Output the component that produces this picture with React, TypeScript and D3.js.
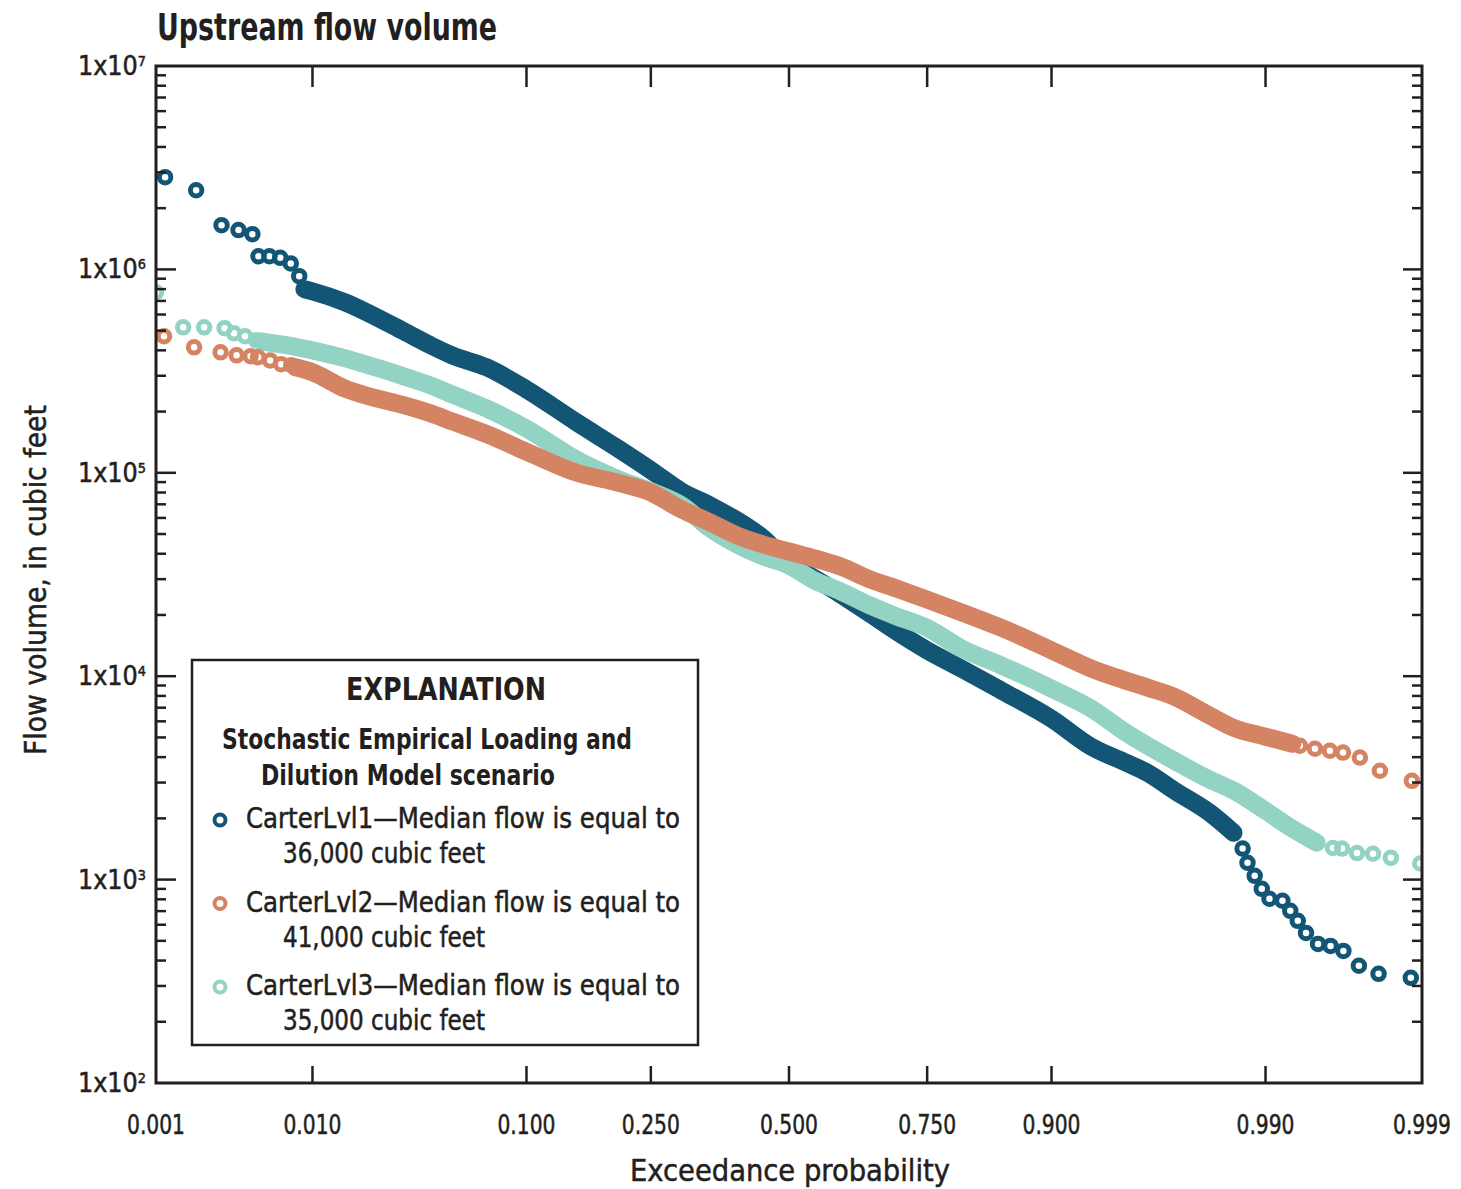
import React, { useEffect, useRef } from "react";
import * as d3 from "d3";

// exceedance probabilities shown on the x axis
const probTicks = [0.001, 0.01, 0.1, 0.25, 0.5, 0.75, 0.9, 0.99, 0.999];
const probLabels = ["0.001", "0.010", "0.100", "0.250", "0.500", "0.750", "0.900", "0.990", "0.999"];
const flowTicks = [1e2, 1e3, 1e4, 1e5, 1e6, 1e7];

// [exceedance probability, flow volume in cubic feet]
// dense part of each series (drawn as a solid band of overlapping circles)
const lvl1Band = [
  [0.009, 7.99e5], [0.01, 7.8e5], [0.015, 6.9e5], [0.02, 6.1e5], [0.03, 4.96e5], [0.04, 4.24e5],
  [0.05, 3.78e5], [0.07, 3.3e5], [0.1, 2.57e5], [0.15, 1.77e5], [0.2, 1.33e5], [0.25, 1.03e5],
  [0.3, 8.1e4], [0.35, 6.91e4], [0.4, 5.83e4], [0.45, 4.76e4], [0.5, 3.58e4], [0.55, 3.02e4],
  [0.6, 2.52e4], [0.65, 2.06e4], [0.7, 1.66e4], [0.75, 1.34e4], [0.8, 1.09e4], [0.85, 8.5e3],
  [0.9, 6.18e3], [0.93, 4.5e3], [0.95, 3.76e3], [0.96, 3.35e3], [0.97, 2.74e3], [0.98, 2.13e3],
  [0.985, 1.7e3],
];
const lvl2Band = [
  [0.008, 3.3e5], [0.01, 3.12e5], [0.015, 2.6e5], [0.02, 2.38e5], [0.03, 2.15e5], [0.04, 1.96e5],
  [0.05, 1.79e5], [0.07, 1.55e5], [0.1, 1.27e5], [0.15, 1.0e5], [0.2, 8.97e4], [0.25, 8.01e4],
  [0.3, 6.6e4], [0.35, 5.7e4], [0.4, 4.92e4], [0.45, 4.44e4], [0.5, 4.1e4], [0.55, 3.79e4],
  [0.6, 3.46e4], [0.65, 3.02e4], [0.7, 2.7e4], [0.75, 2.38e4], [0.8, 2.06e4], [0.85, 1.73e4],
  [0.9, 1.34e4], [0.93, 1.09e4], [0.95, 9.51e3], [0.96, 8.79e3], [0.97, 7.93e3], [0.98, 6.4e3],
  [0.985, 5.58e3], [0.99, 5.04e3], [0.993, 4.66e3],
];
const lvl3Band = [
  [0.005, 4.43e5], [0.007, 4.24e5], [0.01, 4.0e5], [0.015, 3.66e5], [0.02, 3.38e5], [0.03, 2.98e5],
  [0.04, 2.69e5], [0.05, 2.43e5], [0.07, 2.07e5], [0.1, 1.65e5], [0.15, 1.16e5], [0.2, 9.38e4],
  [0.25, 8.1e4], [0.3, 6.91e4], [0.35, 5.33e4], [0.4, 4.44e4], [0.45, 3.88e4], [0.5, 3.5e4],
  [0.55, 2.95e4], [0.6, 2.61e4], [0.65, 2.25e4], [0.7, 1.97e4], [0.75, 1.73e4], [0.8, 1.37e4],
  [0.85, 1.13e4], [0.9, 8.69e3], [0.93, 6.93e3], [0.95, 5.28e3], [0.96, 4.55e3], [0.97, 3.84e3],
  [0.98, 3.1e3], [0.985, 2.74e3], [0.99, 2.18e3], [0.993, 1.78e3], [0.995, 1.52e3],
];

// sparse tails, single circles
const lvl1Points = [
  [0.00116, 2.84e6], [0.0019, 2.45e6], [0.0028, 1.65e6], [0.0036, 1.56e6], [0.0044, 1.49e6],
  [0.0048, 1.16e6], [0.0056, 1.16e6], [0.0065, 1.14e6], [0.0075, 1.07e6], [0.0084, 9.26e5],
  [0.9866, 1420], [0.9874, 1210], [0.9885, 1044], [0.9895, 901], [0.9905, 805], [0.992, 787],
  [0.9928, 702], [0.9935, 627], [0.9942, 547], [0.9951, 483], [0.9959, 472], [0.9966, 446],
  [0.9973, 377], [0.998, 344], [0.9988, 329],
];
const lvl2Points = [
  [0.00114, 4.69e5], [0.00184, 4.14e5], [0.00276, 3.91e5], [0.0035, 3.78e5], [0.00429, 3.74e5],
  [0.00477, 3.7e5], [0.00565, 3.57e5], [0.00658, 3.42e5], [0.00754, 3.38e5],
  [0.99368, 4550], [0.99488, 4400], [0.99586, 4300], [0.99658, 4210], [0.99734, 3980],
  [0.99804, 3430], [0.99882, 3060],
];
const lvl3Points = [
  [0.001, 7.72e5], [0.00155, 5.19e5], [0.00215, 5.19e5], [0.00293, 5.14e5], [0.00337, 4.85e5],
  [0.00396, 4.69e5], [0.00464, 4.48e5],
  [0.99604, 1430], [0.99653, 1420], [0.99722, 1350], [0.99782, 1340], [0.99835, 1280], [0.99897, 1200],
];

const seriesNames = ["CarterLvl1", "CarterLvl2", "CarterLvl3"];
const medianFlows = ["36,000", "41,000", "35,000"];
const colors = ["#125574", "#d48363", "#93d3c4"];

const narrow = "'Liberation Sans Narrow', 'Arial Narrow', 'DejaVu Sans Condensed', sans-serif";
const ink = "#231f20";

// inverse standard normal CDF (Acklam)
function probit(p: number) {
  const a = [-39.69683028665376, 220.9460984245205, -275.9285104469687, 138.357751867269, -30.66479806614716, 2.506628277459239];
  const b = [-54.47609879822406, 161.5858368580409, -155.6989798598866, 66.80131188771972, -13.28068155288572];
  const c = [-0.007784894002430293, -0.3223964580411365, -2.400758277161838, -2.549732539343734, 4.374664141464968, 2.938163982698783];
  const d = [0.007784695709041462, 0.3224671290700398, 2.445134137142996, 3.754408661907416];
  const plow = 0.02425;
  if (p < plow) {
    const q = Math.sqrt(-2 * Math.log(p));
    return (((((c[0] * q + c[1]) * q + c[2]) * q + c[3]) * q + c[4]) * q + c[5]) / ((((d[0] * q + d[1]) * q + d[2]) * q + d[3]) * q + 1);
  }
  if (p <= 1 - plow) {
    const q = p - 0.5;
    const r = q * q;
    return ((((((a[0] * r + a[1]) * r + a[2]) * r + a[3]) * r + a[4]) * r + a[5]) * q) / (((((b[0] * r + b[1]) * r + b[2]) * r + b[3]) * r + b[4]) * r + 1);
  }
  const q = Math.sqrt(-2 * Math.log(1 - p));
  return -(((((c[0] * q + c[1]) * q + c[2]) * q + c[3]) * q + c[4]) * q + c[5]) / ((((d[0] * q + d[1]) * q + d[2]) * q + d[3]) * q + 1);
}

const App = () => {
  const ref = useRef<SVGSVGElement>(null);

  useEffect(() => {
    drawChart();
    //eslint-disable-next-line
  }, []);

  function drawChart() {
    const svg = d3.select(ref.current);
    svg.selectAll("*").remove();

    const left = 156, right = 1422, top = 66, bottom = 1083;

    const z = d3.scaleLinear().domain([probit(0.001), probit(0.999)]).range([left, right]);
    const x = (p: number) => z(probit(p));
    const y = d3.scaleLog().domain([1e2, 1e7]).range([bottom, top]);

    svg.append("defs").append("clipPath").attr("id", "plotClip")
      .append("rect").attr("x", left).attr("y", top).attr("width", right - left).attr("height", bottom - top);

    // series: blue first, then teal, orange on top
    const bands = [lvl1Band, lvl2Band, lvl3Band];
    const points = [lvl1Points, lvl2Points, lvl3Points];
    const order = [0, 2, 1];
    const plot = svg.append("g").attr("clip-path", "url(#plotClip)");
    const line = d3.line<number[]>().x((d) => x(d[0])).y((d) => y(d[1])).curve(d3.curveMonotoneX);

    order.forEach((i) => {
      const g = plot.append("g");
      g.append("path")
        .attr("d", line(bands[i]))
        .attr("fill", "none")
        .attr("stroke", colors[i])
        .attr("stroke-width", 18)
        .attr("stroke-linecap", "round")
        .attr("stroke-linejoin", "round");
      g.selectAll("circle")
        .data(points[i])
        .enter()
        .append("circle")
        .attr("cx", (d) => x(d[0]))
        .attr("cy", (d) => y(d[1]))
        .attr("r", 5.75)
        .attr("fill", "none")
        .attr("stroke", colors[i])
        .attr("stroke-width", 5);
    });

    // frame
    const axis = svg.append("g").attr("stroke", ink).attr("fill", "none");
    axis.append("rect").attr("x", left).attr("y", top).attr("width", right - left).attr("height", bottom - top).attr("stroke-width", 3);

    // x ticks (bottom and top, inward)
    probTicks.slice(1, -1).forEach((p) => {
      axis.append("line").attr("x1", x(p)).attr("x2", x(p)).attr("y1", bottom).attr("y2", bottom - 17).attr("stroke-width", 2.5);
      axis.append("line").attr("x1", x(p)).attr("x2", x(p)).attr("y1", top).attr("y2", top + 21).attr("stroke-width", 2.5);
    });

    // y ticks (left and right, inward)
    const minor: number[] = [];
    flowTicks.slice(0, -1).forEach((v) => {
      for (let k = 2; k <= 9; k++) minor.push(v * k);
    });
    flowTicks.slice(1, -1).forEach((v) => {
      axis.append("line").attr("x1", left).attr("x2", left + 20).attr("y1", y(v)).attr("y2", y(v)).attr("stroke-width", 2.5);
      axis.append("line").attr("x1", right).attr("x2", right - 19).attr("y1", y(v)).attr("y2", y(v)).attr("stroke-width", 2.5);
    });
    minor.forEach((v) => {
      axis.append("line").attr("x1", left).attr("x2", left + 10).attr("y1", y(v)).attr("y2", y(v)).attr("stroke-width", 2.5);
      axis.append("line").attr("x1", right).attr("x2", right - 10).attr("y1", y(v)).attr("y2", y(v)).attr("stroke-width", 2.5);
    });

    // regular text gets a thin outline so it reads as heavy as the print
    const text = svg.append("g").attr("font-family", narrow).attr("fill", ink)
      .attr("stroke", ink).attr("stroke-width", 0.5);
    const fit = (sel: any, w: number) => sel.attr("textLength", w).attr("lengthAdjust", "spacingAndGlyphs");

    // tick labels
    probTicks.forEach((p, i) => {
      fit(text.append("text").attr("x", x(p)).attr("y", 1134).attr("text-anchor", "middle")
        .attr("font-size", 26).text(probLabels[i]), 58);
    });
    flowTicks.forEach((v) => {
      const t = text.append("text").attr("x", 146).attr("y", y(v) + 9).attr("text-anchor", "end").attr("font-size", 26);
      t.append("tspan").text("1x10");
      t.append("tspan").attr("dy", -9).attr("font-size", 14).text(String(Math.round(Math.log10(v))));
      fit(t, 68);
    });

    // titles
    fit(text.append("text").attr("x", 157).attr("y", 40).attr("font-size", 38).attr("font-weight", "bold")
      .attr("stroke-width", 0).text("Upstream flow volume"), 340);
    fit(text.append("text").attr("x", 790).attr("y", 1181).attr("text-anchor", "middle").attr("font-size", 31)
      .text("Exceedance probability"), 320);
    fit(text.append("text").attr("transform", "translate(46,580) rotate(-90)").attr("text-anchor", "middle")
      .attr("font-size", 31).text("Flow volume, in cubic feet"), 350);

    // explanation box
    const lg = svg.append("g");
    lg.append("rect").attr("x", 192).attr("y", 660).attr("width", 506).attr("height", 385)
      .attr("fill", "#fff").attr("stroke", ink).attr("stroke-width", 2.5);
    const lt = lg.append("g").attr("font-family", narrow).attr("fill", ink)
      .attr("stroke", ink).attr("stroke-width", 0.5);
    fit(lt.append("text").attr("x", 446).attr("y", 700).attr("text-anchor", "middle").attr("font-size", 32)
      .attr("font-weight", "bold").attr("stroke-width", 0).text("EXPLANATION"), 200);
    fit(lt.append("text").attr("x", 222).attr("y", 749).attr("font-size", 28).attr("font-weight", "bold")
      .attr("stroke-width", 0).text("Stochastic Empirical Loading and"), 410);
    fit(lt.append("text").attr("x", 261).attr("y", 785).attr("font-size", 28).attr("font-weight", "bold")
      .attr("stroke-width", 0).text("Dilution Model scenario"), 294);

    seriesNames.forEach((name, i) => {
      const cy = 820 + i * 83.5;
      lg.append("circle").attr("cx", 220).attr("cy", cy).attr("r", 5.5).attr("fill", "none")
        .attr("stroke", colors[i]).attr("stroke-width", 4);
      fit(lt.append("text").attr("x", 246).attr("y", cy + 8).attr("font-size", 28)
        .text(`${name}\u2014Median flow is equal to`), 434);
      fit(lt.append("text").attr("x", 283).attr("y", cy + 43).attr("font-size", 28)
        .text(`${medianFlows[i]} cubic feet`), 202);
    });
  }

  return (
    <svg
      ref={ref}
      width={1461}
      height={1189}
      style={{ position: "absolute", left: 0, top: 0, background: "#fff" }}
    />
  );
};

export default App;
